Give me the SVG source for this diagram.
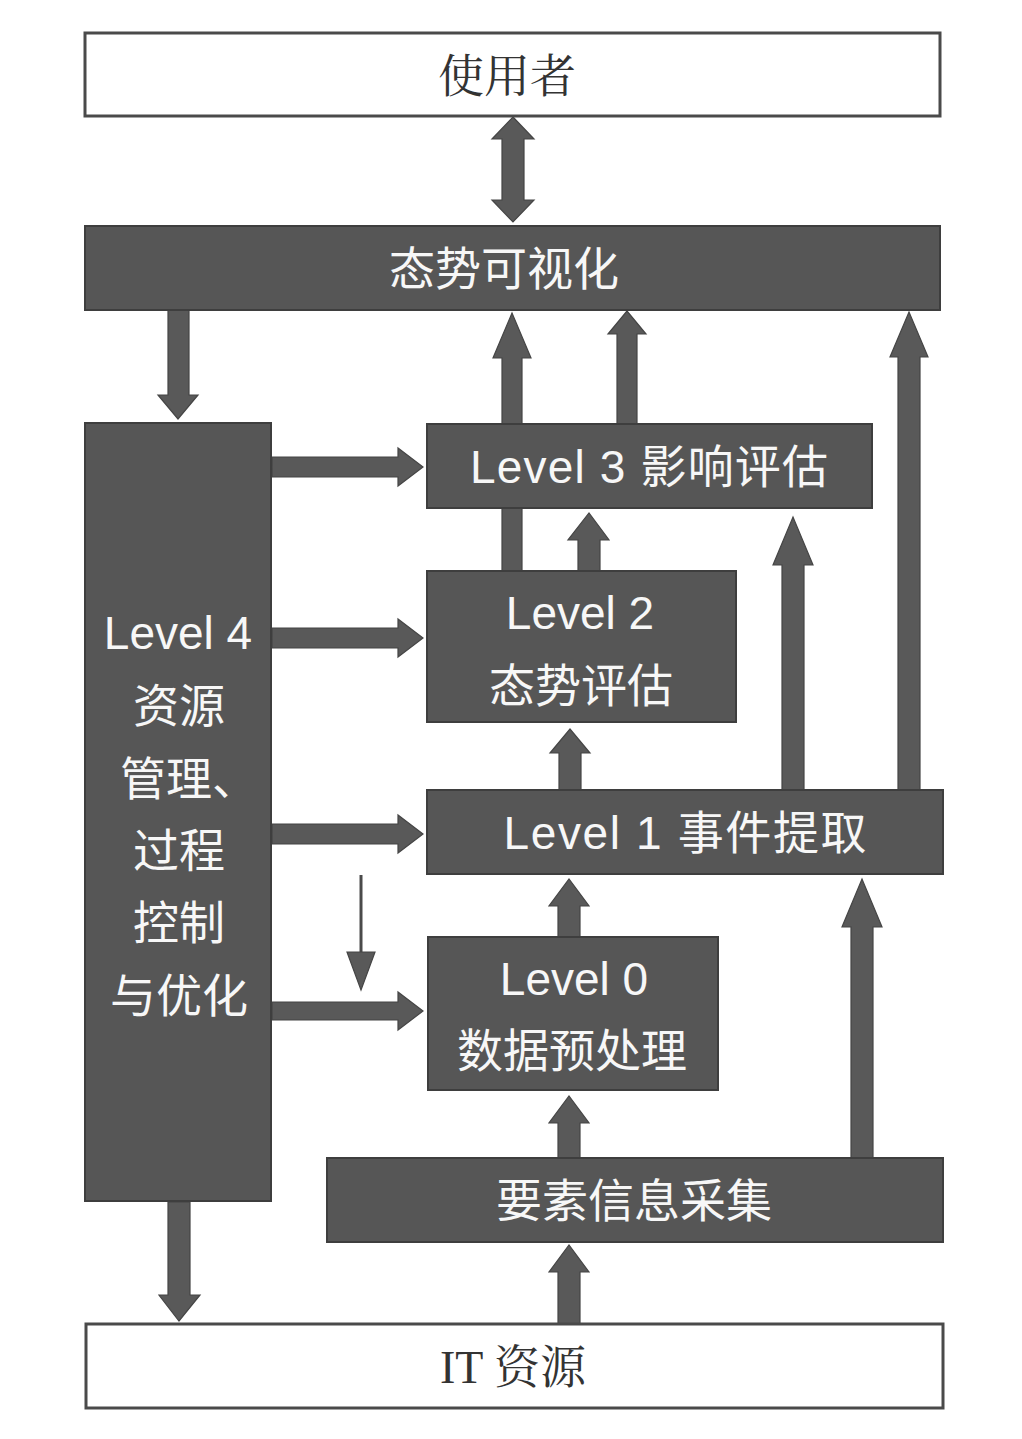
<svg xmlns="http://www.w3.org/2000/svg" width="1022" height="1439" viewBox="0 0 1022 1439">
<style>
.dk{fill:#565656;stroke:#3e3e3e;stroke-width:2}
.wt{fill:#ffffff;stroke:#4a4a4a;stroke-width:3}
.ar{fill:#595959;stroke:#454545;stroke-width:1.2}
.tw{fill:#f7f7f7;font-family:"Liberation Sans","Noto Sans CJK SC",sans-serif;font-size:46px;text-anchor:middle}
.ts{fill:#333333;font-family:"Liberation Serif","Noto Serif CJK SC","Noto Sans CJK SC",serif;font-size:46px;text-anchor:middle}
</style>
<rect width="1022" height="1439" fill="#ffffff"/>
<g id="connectors">
  <!-- double arrow user <-> visualization -->
  <polygon class="ar" points="513,117 534,139 524,139 524,200 534,200 513,222 492,200 502,200 502,139 492,139"/>
  <!-- visualization -> Level 4 -->
  <polygon class="ar" points="168,310 189,310 189,395 198,395 178,419 158,395 168,395"/>
  <!-- Level 4 -> Level 3/2/1/0 -->
  <polygon class="ar" points="272,457 398,457 398,448 423,467 398,486 398,477 272,477"/>
  <polygon class="ar" points="272,628 398,628 398,619 423,638 398,657 398,648 272,648"/>
  <polygon class="ar" points="272,824 398,824 398,815 423,834 398,853 398,844 272,844"/>
  <polygon class="ar" points="272,1002 398,1002 398,992 423,1011 398,1030 398,1020 272,1020"/>
  <!-- thin arrow -->
  <line x1="361" y1="875" x2="361" y2="960" stroke="#4a4a4a" stroke-width="3"/>
  <polygon class="ar" points="347,952 375,952 361,990"/>
  <!-- Level 2 -> visualization (behind Level 3) -->
  <polygon class="ar" points="502,572 502,358 493,358 512,313 531,358 522,358 522,572"/>
  <!-- Level 3 -> visualization -->
  <polygon class="ar" points="617,424 617,334 608,334 627,311 646,334 637,334 637,424"/>
  <!-- Level 1 -> visualization -->
  <polygon class="ar" points="898,790 898,357 890,357 909,312 928,357 920,357 920,790"/>
  <!-- Level 2 -> Level 3 -->
  <polygon class="ar" points="578,572 578,540 568,540 589,513 609,540 600,540 600,572"/>
  <!-- Level 1 -> Level 3 -->
  <polygon class="ar" points="782,790 782,565 773,565 793,517 813,565 804,565 804,790"/>
  <!-- Level 1 -> Level 2 -->
  <polygon class="ar" points="559,790 559,753 550,753 570,729 590,753 581,753 581,790"/>
  <!-- Level 0 -> Level 1 -->
  <polygon class="ar" points="558,938 558,906 549,906 569,879 589,906 580,906 580,938"/>
  <!-- collection -> Level 1 -->
  <polygon class="ar" points="851,1158 851,927 842,927 862,879 882,927 873,927 873,1158"/>
  <!-- collection -> Level 0 -->
  <polygon class="ar" points="558,1158 558,1123 549,1123 569,1096 589,1123 580,1123 580,1158"/>
  <!-- IT -> collection -->
  <polygon class="ar" points="558,1324 558,1272 549,1272 569,1245 589,1272 580,1272 580,1324"/>
  <!-- Level 4 -> IT -->
  <polygon class="ar" points="168,1202 190,1202 190,1295 200,1295 179,1321 159,1295 168,1295"/>
</g>
<g id="user">
  <rect class="wt" x="85" y="33" width="855" height="83"/>
  <text class="ts" x="507" y="92">使用者</text>
</g>
<g id="visualization">
  <rect class="dk" x="85" y="226" width="855" height="84"/>
  <text class="tw" x="504" y="285">态势可视化</text>
</g>
<g id="level4">
  <rect class="dk" x="85" y="423" width="186" height="778"/>
  <text class="tw" x="178" y="649">Level 4</text>
  <text class="tw" x="179" y="722">资源</text>
  <text class="tw" x="189" y="795">管理、</text>
  <text class="tw" x="179" y="867">过程</text>
  <text class="tw" x="179" y="939">控制</text>
  <text class="tw" x="179" y="1012">与优化</text>
</g>
<g id="level3">
  <rect class="dk" x="427" y="424" width="445" height="84"/>
  <text class="tw" x="649" y="483" textLength="358" lengthAdjust="spacing">Level 3 影响评估</text>
</g>
<g id="level2">
  <rect class="dk" x="427" y="571" width="309" height="151"/>
  <text class="tw" x="580" y="629">Level 2</text>
  <text class="tw" x="581" y="702">态势评估</text>
</g>
<g id="level1">
  <rect class="dk" x="427" y="790" width="516" height="84"/>
  <text class="tw" x="685" y="849" textLength="363" lengthAdjust="spacing">Level 1 事件提取</text>
</g>
<g id="level0">
  <rect class="dk" x="428" y="937" width="290" height="153"/>
  <text class="tw" x="574" y="995">Level 0</text>
  <text class="tw" x="572" y="1067">数据预处理</text>
</g>
<g id="collection">
  <rect class="dk" x="327" y="1158" width="616" height="84"/>
  <text class="tw" x="634" y="1217">要素信息采集</text>
</g>
<g id="it">
  <rect class="wt" x="86" y="1324" width="857" height="84"/>
  <text class="ts" x="513" y="1383">IT 资源</text>
</g>
</svg>
